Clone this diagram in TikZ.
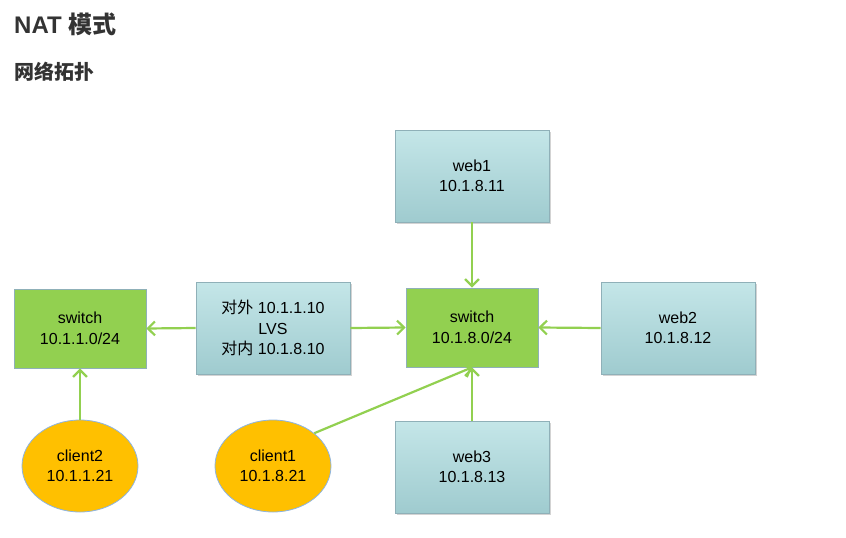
\documentclass[tikz,border=0pt]{standalone}
\usepackage{fontspec}
\setmainfont{Liberation Sans}
\newfontfamily\cjk{Noto Sans CJK SC}
\usetikzlibrary{arrows.meta,shadows,shapes.geometric}
\definecolor{boxtop}{HTML}{C4E6E8}
\definecolor{boxbot}{HTML}{9FCBCF}
\definecolor{boxedge}{HTML}{8FB0B8}
\definecolor{swgreen}{HTML}{92D050}
\definecolor{lnk}{HTML}{92D050}
\definecolor{cliorange}{HTML}{FFC000}
\definecolor{cliedge}{HTML}{8DB4E2}
\definecolor{titlegray}{HTML}{333333}
\tikzset{
  x=1pt,y=1pt,
  server/.style={draw=boxedge, line width=0.6pt, top color=boxtop, bottom color=boxbot,
    minimum width=154pt, minimum height=92pt, align=center, font=\fontsize{16}{20.5}\selectfont,
    drop shadow={shadow xshift=1.5pt, shadow yshift=-1.5pt, opacity=0.35}},
  swbox/.style={draw=boxedge, line width=0.8pt, fill=swgreen,
    minimum width=132pt, minimum height=79pt, align=center, font=\fontsize{16}{20.5}\selectfont},
  client/.style={ellipse, draw=cliedge, line width=0.8pt, fill=cliorange,
    minimum width=116pt, minimum height=92pt, align=center, font=\fontsize{16}{20.5}\selectfont},
  link/.style={draw=lnk, line width=2.2pt, -{Straight Barb[length=7pt,width=14pt,line width=2.2pt]}},
}
\begin{document}
\begin{tikzpicture}
\useasboundingbox (0,0) rectangle (846,-538);
\node[anchor=west, font=\fontsize{24}{28}\bfseries\selectfont, text=titlegray, inner sep=0] (title) at (14,-24) {NAT {\cjk\bfseries 模式}};
\node[anchor=west, font=\fontsize{20}{24}\selectfont, text=titlegray, inner sep=0] (sub) at (14,-72) {{\cjk\bfseries 网络拓扑}};

\node[server] (web1) at (472,-176) {web1\\10.1.8.11};
\node[server] (web2) at (678,-328) {web2\\10.1.8.12};
\node[server] (web3) at (472,-467) {web3\\10.1.8.13};
\node[server] (lvs) at (273,-328) {{\cjk 对外} 10.1.1.10\\LVS\\{\cjk 对内} 10.1.8.10};
\node[swbox] (sw2) at (472,-327.5) {switch\\10.1.8.0/24};
\node[swbox] (sw1) at (80,-328.5) {switch\\10.1.1.0/24};
\node[client] (c2) at (80,-466) {client2\\10.1.1.21};
\node[client] (c1) at (273,-466) {client1\\10.1.8.21};

\draw[link] (web1.south) -- (sw2.north);
\draw[link] (web2.west) -- (sw2.east);
\draw[link] (web3.north) -- (sw2.south);
\draw[link] (c1.north east) -- (sw2.south);
\draw[link] (lvs.east) -- (sw2.west);
\draw[link] (lvs.west) -- (sw1.east);
\draw[link] (c2.north) -- (sw1.south);
\end{tikzpicture}
\end{document}
